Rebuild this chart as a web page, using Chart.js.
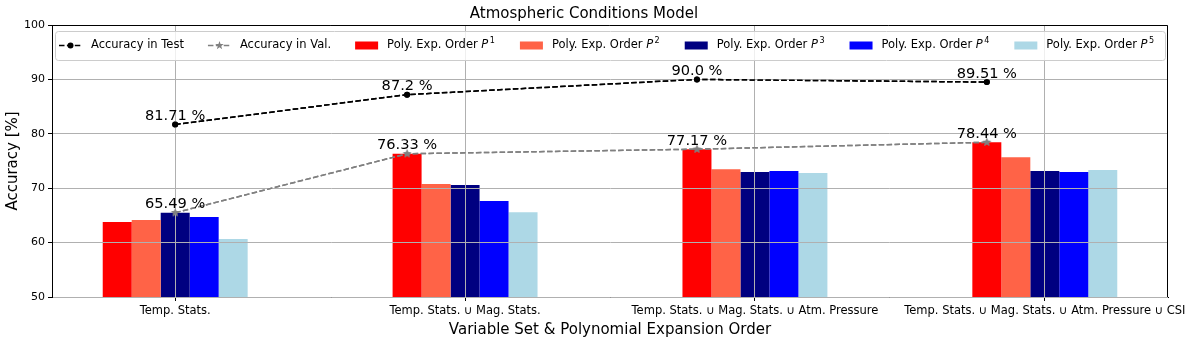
<!DOCTYPE html>
<html>
<head>
<meta charset="utf-8">
<script src="https://cdn.jsdelivr.net/npm/chart.js@4.4.0/dist/chart.umd.min.js"></script>
<style>
    html, body { margin: 0; padding: 0; background: #fff; }
    #wrap { width: 1194px; height: 346px; position: relative; }
</style>
</head>
<body>
<div id="wrap"><canvas id="accuracy-chart"></canvas></div>
<script>
// Category labels and positions on the x axis
const groupLabels = [
    'Temp. Stats.',
    'Temp. Stats. \u222A Mag. Stats.',
    'Temp. Stats. \u222A Mag. Stats. \u222A Atm. Pressure',
    'Temp. Stats. \u222A Mag. Stats. \u222A Atm. Pressure \u222A CSI'
];
const groupPos = [0, 1, 2, 3];

// Bar values per polynomial expansion order
const orderP1 = [63.8, 76.33, 77.17, 78.44];
const orderP2 = [64.15, 70.77, 73.5, 75.7];
const orderP3 = [65.49, 70.6, 72.98, 73.16];
const orderP4 = [64.7, 67.65, 73.16, 73.0];
const orderP5 = [60.66, 65.6, 72.8, 73.35];

// Accuracy lines (x = position of the best bar in each group)
const accPos = [0, 0.8, 1.8, 2.8];
const accTest = [81.71, 87.2, 90.0, 89.51];
const accVal = [65.49, 76.33, 77.17, 78.44];
const accTestText = ['81.71 %', '87.2 %', '90.0 %', '89.51 %'];
const accValText = ['65.49 %', '76.33 %', '77.17 %', '78.44 %'];

const yMin = 50, yMax = 100, yStep = 10;

const FONT = 'DejaVu Sans';
Chart.defaults.font.family = FONT;
Chart.defaults.color = '#000';

/**
 * Filled star marker like matplotlib's '*'
 */
function makeStar(r, color) {
    const c = document.createElement('canvas');
    const s = Math.ceil(r * 2) + 2;
    c.width = s; c.height = s;
    const g = c.getContext('2d');
    g.fillStyle = color;
    g.beginPath();
    for (let i = 0; i < 10; i++) {
        const rad = i % 2 === 0 ? r : r * 0.4;
        const a = -Math.PI / 2 + i * Math.PI / 5;
        const px = s / 2 + rad * Math.cos(a), py = s / 2 + rad * Math.sin(a);
        if (i === 0) g.moveTo(px, py); else g.lineTo(px, py);
    }
    g.closePath();
    g.fill();
    return c;
}
const starImg = makeStar(4.5, '#808080');

function barSet(label, values, color) {
    return {
        type: 'bar',
        label: label,
        data: groupPos.map((x, i) => ({x: x, y: values[i]})),
        backgroundColor: color,
        borderWidth: 0,
        categoryPercentage: 0.5,
        barPercentage: 1.0,
        order: 2
    };
}

const dash = [5.5, 2.4];

const datasets = [
    {
        type: 'line',
        label: 'Accuracy in Test',
        data: accPos.map((x, i) => ({x: x, y: accTest[i]})),
        borderColor: '#000',
        borderWidth: 1.5,
        borderDash: dash,
        pointStyle: 'circle',
        pointRadius: 3,
        pointBackgroundColor: '#000',
        pointBorderWidth: 0,
        tension: 0,
        fill: false,
        order: 1
    },
    {
        type: 'line',
        label: 'Accuracy in Val.',
        data: accPos.map((x, i) => ({x: x, y: accVal[i]})),
        borderColor: '#808080',
        borderWidth: 1.5,
        borderDash: dash,
        pointStyle: starImg,
        pointRadius: 4.5,
        pointBackgroundColor: '#808080',
        pointBorderWidth: 0,
        tension: 0,
        fill: false,
        order: 1
    },
    barSet('Poly. Exp. Order P^1', orderP1, '#ff0000'),
    barSet('Poly. Exp. Order P^2', orderP2, '#ff6347'),
    barSet('Poly. Exp. Order P^3', orderP3, '#000080'),
    barSet('Poly. Exp. Order P^4', orderP4, '#0000ff'),
    barSet('Poly. Exp. Order P^5', orderP5, '#add8e6')
];

/**
 * Overlay: lines above grid, value labels, box spines and in-axes legend
 */
const overlayPlugin = {
    id: 'overlay',
    afterDraw(chart) {
        const ctx = chart.ctx;
        const area = chart.chartArea;
        const xs = chart.scales.x, ys = chart.scales.y;

        // redraw the lines so they sit above the grid
        ctx.save();
        ctx.beginPath();
        ctx.rect(area.left, area.top, area.right - area.left, area.bottom - area.top);
        ctx.clip();
        chart.getSortedVisibleDatasetMetas().forEach(m => {
            if (m.type === 'line') m.controller.draw();
        });
        ctx.restore();

        // value annotations
        ctx.save();
        ctx.font = '14.6px "' + FONT + '"';
        ctx.fillStyle = '#000';
        ctx.textAlign = 'center';
        ctx.textBaseline = 'alphabetic';
        [[accTest, accTestText], [accVal, accValText]].forEach(([vals, texts]) => {
            vals.forEach((v, i) => {
                const px = xs.getPixelForValue(accPos[i]);
                const py = ys.getPixelForValue(v);
                ctx.fillText(texts[i], px, py - 4.5);
            });
        });
        ctx.restore();

        // top and right spines
        ctx.save();
        ctx.strokeStyle = '#000';
        ctx.lineWidth = 1;
        ctx.beginPath();
        ctx.moveTo(area.left, area.top + 0.5);
        ctx.lineTo(area.right - 0.5, area.top + 0.5);
        ctx.lineTo(area.right - 0.5, area.bottom);
        ctx.stroke();
        ctx.restore();

        drawLegend(chart);
    }
};

function drawLegend(chart) {
    const ctx = chart.ctx;
    const area = chart.chartArea;
    const boxL = area.left + 3, boxR = area.right - 3;
    const boxT = area.top + 6, boxB = area.top + 35;
    const cy = (boxT + boxB) / 2;
    const handleLen = 23, textPad = 9, colSpace = 24;
    const fs = 11.5;

    ctx.save();
    // frame
    ctx.beginPath();
    ctx.roundRect(boxL + 0.5, boxT + 0.5, boxR - boxL, boxB - boxT, 3);
    ctx.fillStyle = 'rgba(255,255,255,0.8)';
    ctx.fill();
    ctx.strokeStyle = '#cccccc';
    ctx.lineWidth = 1;
    ctx.stroke();

    ctx.textBaseline = 'middle';
    ctx.textAlign = 'left';
    let x = boxL + 4;
    chart.data.datasets.forEach(ds => {
        // handle
        if (ds.type === 'line') {
            ctx.strokeStyle = ds.borderColor;
            ctx.lineWidth = ds.borderWidth;
            ctx.setLineDash(ds.borderDash);
            ctx.beginPath();
            ctx.moveTo(x, cy);
            ctx.lineTo(x + handleLen, cy);
            ctx.stroke();
            ctx.setLineDash([]);
            const mx = x + handleLen / 2;
            if (ds.pointStyle === 'circle') {
                ctx.fillStyle = ds.pointBackgroundColor;
                ctx.beginPath();
                ctx.arc(mx, cy, ds.pointRadius, 0, Math.PI * 2);
                ctx.fill();
            } else {
                const img = ds.pointStyle;
                ctx.drawImage(img, mx - img.width / 2, cy - img.height / 2);
            }
        } else {
            ctx.fillStyle = ds.backgroundColor;
            ctx.fillRect(x, cy - 4, handleLen, 8);
        }
        x += handleLen + textPad;

        // label text, with P^n as italic P and superscript
        ctx.fillStyle = '#000';
        const m = /^(.*)P\^(\d)$/.exec(ds.label);
        if (m) {
            ctx.font = fs + 'px "' + FONT + '"';
            ctx.fillText(m[1], x, cy);
            x += ctx.measureText(m[1]).width;
            ctx.font = 'oblique ' + fs + 'px "' + FONT + '"';
            ctx.fillText('P', x, cy);
            x += ctx.measureText('P').width + 1.5;
            ctx.font = (fs * 0.7) + 'px "' + FONT + '"';
            ctx.fillText(m[2], x, cy - 4.5);
            x += ctx.measureText(m[2]).width + 1;
        } else {
            ctx.font = fs + 'px "' + FONT + '"';
            ctx.fillText(ds.label, x, cy);
            x += ctx.measureText(ds.label).width;
        }
        x += colSpace;
    });
    ctx.restore();
}

function initializeChart() {
    const ctx = document.getElementById('accuracy-chart').getContext('2d');
    new Chart(ctx, {
        type: 'bar',
        data: { datasets: datasets },
        options: {
            responsive: true,
            maintainAspectRatio: false,
            animation: false,
            layout: { padding: { left: 0, right: 26, top: 0, bottom: 0 } },
            plugins: {
                legend: { display: false },
                tooltip: { enabled: false },
                title: {
                    display: true,
                    text: 'Atmospheric Conditions Model',
                    color: '#000',
                    font: { size: 15, weight: 'normal' },
                    padding: { top: 5, bottom: 2 }
                }
            },
            scales: {
                x: {
                    type: 'linear',
                    offset: false,
                    min: -0.425,
                    max: 3.425,
                    afterBuildTicks: s => { s.ticks = groupPos.map(v => ({value: v})); },
                    afterFit: s => { s.height = 49; s.paddingLeft = 0; s.paddingRight = 0; },
                    ticks: {
                        autoSkip: false,
                        maxRotation: 0,
                        minRotation: 0,
                        padding: 3,
                        color: '#000',
                        font: { size: 11.5 },
                        callback: v => groupLabels[v]
                    },
                    grid: { offset: false, color: '#b0b0b0', lineWidth: 1, tickLength: 4, tickColor: '#000', z: 1 },
                    border: { color: '#000', width: 1, z: 1 },
                    title: {
                        display: true,
                        text: 'Variable Set & Polynomial Expansion Order',
                        color: '#000',
                        font: { size: 15 },
                        padding: { top: 0, bottom: 7 }
                    }
                },
                y: {
                    min: yMin,
                    max: yMax,
                    afterFit: s => { s.width = 52; s.paddingTop = 0; s.paddingBottom = 0; },
                    ticks: {
                        stepSize: yStep,
                        padding: 3,
                        color: '#000',
                        font: { size: 11 }
                    },
                    grid: { color: '#b0b0b0', lineWidth: 1, tickLength: 4, tickColor: '#000', z: 1 },
                    border: { color: '#000', width: 1, z: 1 },
                    title: {
                        display: true,
                        text: 'Accuracy [%]',
                        color: '#000',
                        font: { size: 15 },
                        padding: { top: 4, bottom: 0 }
                    }
                }
            }
        },
        plugins: [overlayPlugin]
    });
}

initializeChart();
</script>
</body>
</html>
